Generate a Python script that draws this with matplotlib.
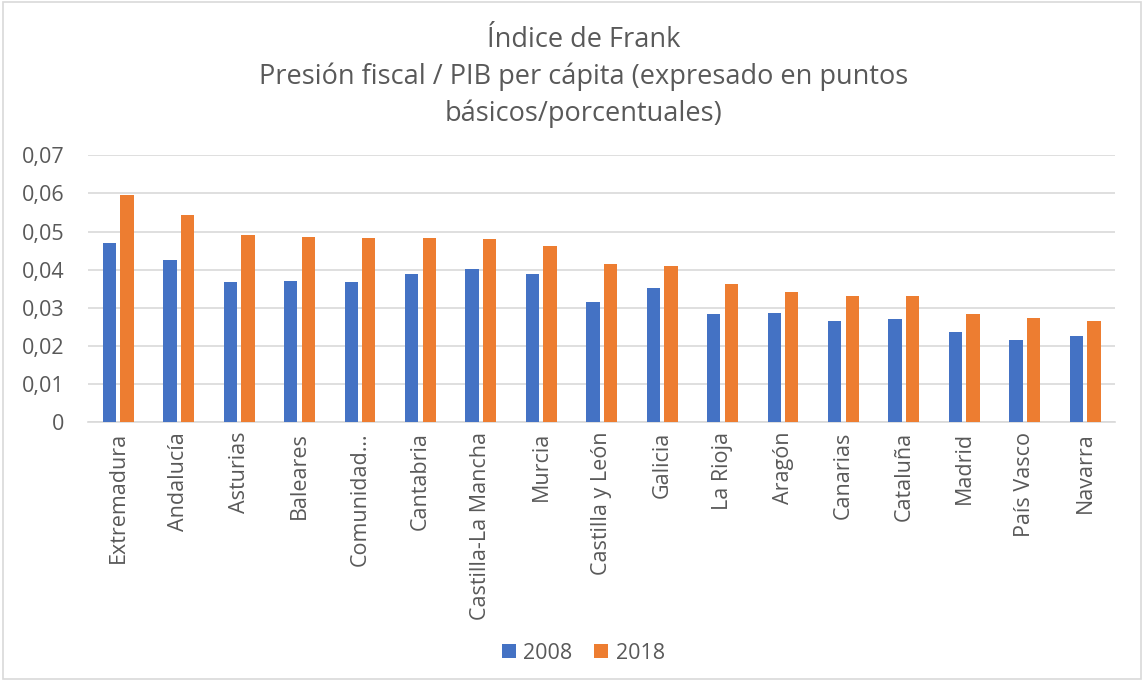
import matplotlib.pyplot as plt
import numpy as np
from matplotlib.patches import Rectangle

regiones = ['Extremadura', 'Andalucía', 'Asturias', 'Baleares', 'Comunidad…',
            'Cantabria', 'Castilla-La Mancha', 'Murcia', 'Castilla y León', 'Galicia',
            'La Rioja', 'Aragón', 'Canarias', 'Cataluña', 'Madrid', 'País Vasco', 'Navarra']
v2008 = [0.0469, 0.0426, 0.0367, 0.0370, 0.0367, 0.0388, 0.0402, 0.0388, 0.0314, 0.0353,
         0.0284, 0.0286, 0.0265, 0.0270, 0.0236, 0.0215, 0.0226]
v2018 = [0.0595, 0.0544, 0.0490, 0.0486, 0.0483, 0.0483, 0.0481, 0.0462, 0.0416, 0.0409,
         0.0363, 0.0342, 0.0332, 0.0331, 0.0284, 0.0272, 0.0265]
yticks = [0, 0.01, 0.02, 0.03, 0.04, 0.05, 0.06, 0.07]
ytick_labels = ['0', '0,01', '0,02', '0,03', '0,04', '0,05', '0,06', '0,07']

plt.rcParams['font.family'] = ['Open Sans', 'DejaVu Sans']
gris = '#595959'

fig = plt.figure(figsize=(11.44, 6.81), dpi=100)
ax = fig.add_axes([0.077, 0.380, 0.898, 0.392])

x = np.arange(len(regiones))
w = 0.22
ax.bar(x - 0.145, v2008, w, color='#4472C4', label='2008', zorder=3)
ax.bar(x + 0.145, v2018, w, color='#ED7D31', label='2018', zorder=3)

ax.set_xlim(-0.5, len(regiones) - 0.5)
ax.set_ylim(0, 0.07)
ax.set_yticks(yticks)
ax.set_yticklabels(ytick_labels, fontsize=15.5, color=gris)
ax.set_xticks(x)
ax.set_xticklabels(regiones, rotation=90, fontsize=15.5, color=gris)
ax.tick_params(axis='x', length=0, pad=7)
ax.tick_params(axis='y', length=0, pad=17)
ax.yaxis.grid(True, color='#d9d9d9', linewidth=1.2, zorder=0)
for s in ['top', 'right', 'left']:
    ax.spines[s].set_visible(False)
ax.spines['bottom'].set_color('#d9d9d9')
ax.spines['bottom'].set_linewidth(1.2)

fig.text(0.51, 0.962, 'Índice de Frank\nPresión fiscal / PIB per cápita (expresado en puntos\nbásicos/porcentuales)',
         ha='center', va='top', fontsize=19.5, color=gris, linespacing=1.4)

fig.legend(loc='center', bbox_to_anchor=(0.51, 0.041), ncol=2, frameon=False,
           fontsize=15.5, labelcolor=gris, handlelength=0.65, handleheight=0.65,
           handletextpad=0.35, columnspacing=1.0)

fig.patches.append(Rectangle((0.003, 0.003), 0.994, 0.994, transform=fig.transFigure,
                             fill=False, edgecolor='#d9d9d9', linewidth=1.2))

fig.savefig('out.png', dpi=100, facecolor='white')
